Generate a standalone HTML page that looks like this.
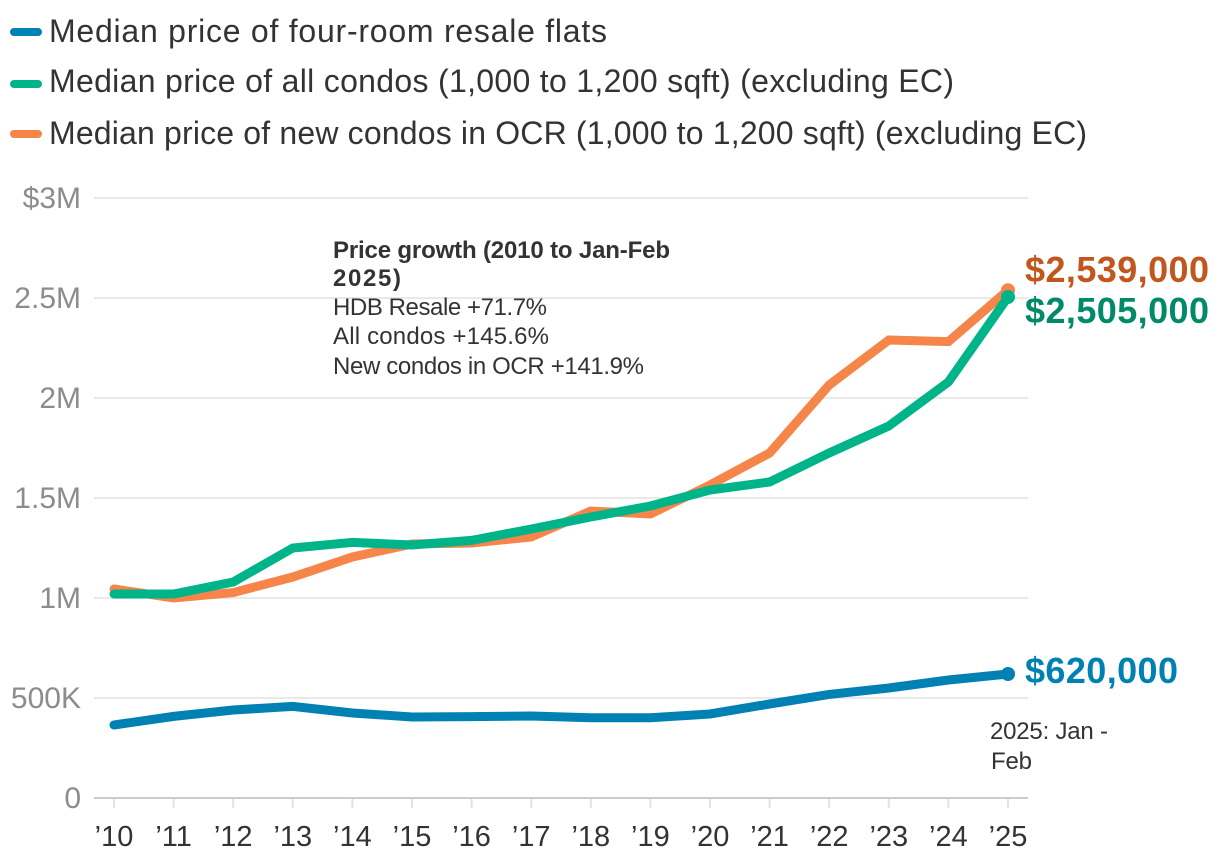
<!DOCTYPE html>
<html lang="en">
<head>
<meta charset="utf-8">
<title>Median prices of flats and condos</title>
<style>
html,body{margin:0;padding:0;background:#fff;width:1220px;height:864px;overflow:hidden}
svg{display:block;font-family:"Liberation Sans",sans-serif}
</style>
</head>
<body>
<svg id="chart" width="1220" height="864" viewBox="0 0 1220 864" xmlns="http://www.w3.org/2000/svg">
  <g font-size="32" fill="#333333">
    <rect x="10" y="28" width="32" height="8" rx="4" fill="#0081b4"/>
    <text x="49" y="42" textLength="558" lengthAdjust="spacing">Median price of four-room resale flats</text>
    <rect x="10" y="80" width="32" height="8" rx="4" fill="#00b48a"/>
    <text x="49" y="92" textLength="905" lengthAdjust="spacing">Median price of all condos (1,000 to 1,200 sqft) (excluding EC)</text>
    <rect x="10" y="130" width="32" height="8" rx="4" fill="#f58549"/>
    <text x="49" y="144" textLength="1038" lengthAdjust="spacing">Median price of new condos in OCR (1,000 to 1,200 sqft) (excluding EC)</text>
  </g>
  <g id="grid"></g>
  <g id="yticks"></g>
  <g id="xticks"></g>
  <g id="series"></g>
  <g font-size="24" fill="#333333">
    <text x="333" y="258" font-weight="700" textLength="337" lengthAdjust="spacing">Price growth (2010 to Jan-Feb</text>
    <text x="333" y="286" font-weight="700" textLength="68" lengthAdjust="spacing">2025)</text>
    <text x="333" y="315" textLength="214" lengthAdjust="spacing">HDB Resale +71.7%</text>
    <text x="333" y="344" textLength="216" lengthAdjust="spacing">All condos +145.6%</text>
    <text x="333" y="374" textLength="311" lengthAdjust="spacing">New condos in OCR +141.9%</text>
  </g>
  <g font-size="24" fill="#333333">
    <text x="990" y="739" textLength="118" lengthAdjust="spacing">2025: Jan -</text>
    <text x="991" y="769" textLength="41" lengthAdjust="spacing">Feb</text>
  </g>
</svg>
<script>
const categories = ["’10","’11","’12","’13","’14","’15","’16","’17","’18","’19","’20","’21","’22","’23","’24","’25"];
const hdbValues = [365000,408000,440000,458000,425000,405000,407000,410000,401000,401000,420000,470000,518000,550000,590000,620000];
const newCondoValues = [1045000,1000000,1027000,1105000,1205000,1270000,1275000,1305000,1435000,1420000,1565000,1725000,2065000,2290000,2282000,2539000];
const allCondoValues = [1020000,1020000,1080000,1250000,1278000,1265000,1288000,1345000,1405000,1460000,1540000,1580000,1725000,1860000,2080000,2505000];
const yTickValues = [0,500000,1000000,1500000,2000000,2500000,3000000];
const yTickLabels = ["0","500K","1M","1.5M","2M","2.5M","$3M"];
const hdbEndLabel = "$620,000";
const newCondoEndLabel = "$2,539,000";
const allCondoEndLabel = "$2,505,000";

const NS = "http://www.w3.org/2000/svg";
const xAt = i => 114 + i * (1008 - 114) / (categories.length - 1);
const yAt = v => 798 - v * 600 / 3000000;
const make = (tag, parent, attrs) => {
  const el = document.createElementNS(NS, tag);
  for (const k in attrs) el.setAttribute(k, attrs[k]);
  parent.appendChild(el);
  return el;
};

const grid = document.getElementById("grid");
const yticks = document.getElementById("yticks");
yTickValues.forEach((v, i) => {
  const line = make("line", grid, {x1: 94, x2: 1028, y1: yAt(v), y2: yAt(v), stroke: v === 0 ? "#cccccc" : "#e9e9e9", "stroke-width": 2});
  
  
  const t = make("text", yticks, {x: 81, y: yAt(v) + 10, "text-anchor": "end", "font-size": 30, fill: "#8c8c8c"});
  
  
  t.textContent = yTickLabels[i];
});

const xticks = document.getElementById("xticks");
categories.forEach((c, i) => {
  const tick = make("line", xticks, {x1: xAt(i), x2: xAt(i), y1: 799, y2: 808, stroke: "#e3e3e3", "stroke-width": 2});
  
  
  const t = make("text", xticks, {x: xAt(i), y: 846, "text-anchor": "middle", "font-size": 29, fill: "#333333"});
  
  
  t.textContent = c;
});

const seriesGroup = document.getElementById("series");
function drawSeries(values, color, labelColor, endLabel, labelDy, width) {
  const pts = values.map((v, i) => xAt(i) + "," + yAt(v)).join(" ");
  const line = make("polyline", seriesGroup, {points: pts, fill: "none", stroke: color, "stroke-width": 9, "stroke-linejoin": "miter", "stroke-linecap": "round"});
  
  
  const last = values.length - 1;
  const dot = make("circle", seriesGroup, {cx: xAt(last), cy: yAt(values[last]), r: 7, fill: color});
  
  
  const t = make("text", seriesGroup, {x: 1025, y: yAt(values[last]) + labelDy, "font-size": 36, "font-weight": 700, fill: labelColor, textLength: width, lengthAdjust: "spacing"});
  
  
  t.textContent = endLabel;
}
drawSeries(hdbValues, "#0081b4", "#0081b4", hdbEndLabel, 9, 153);
drawSeries(newCondoValues, "#f58549", "#c1571c", newCondoEndLabel, -8, 184);
drawSeries(allCondoValues, "#00b48a", "#008a6a", allCondoEndLabel, 26, 184);
</script>
</body>
</html>
